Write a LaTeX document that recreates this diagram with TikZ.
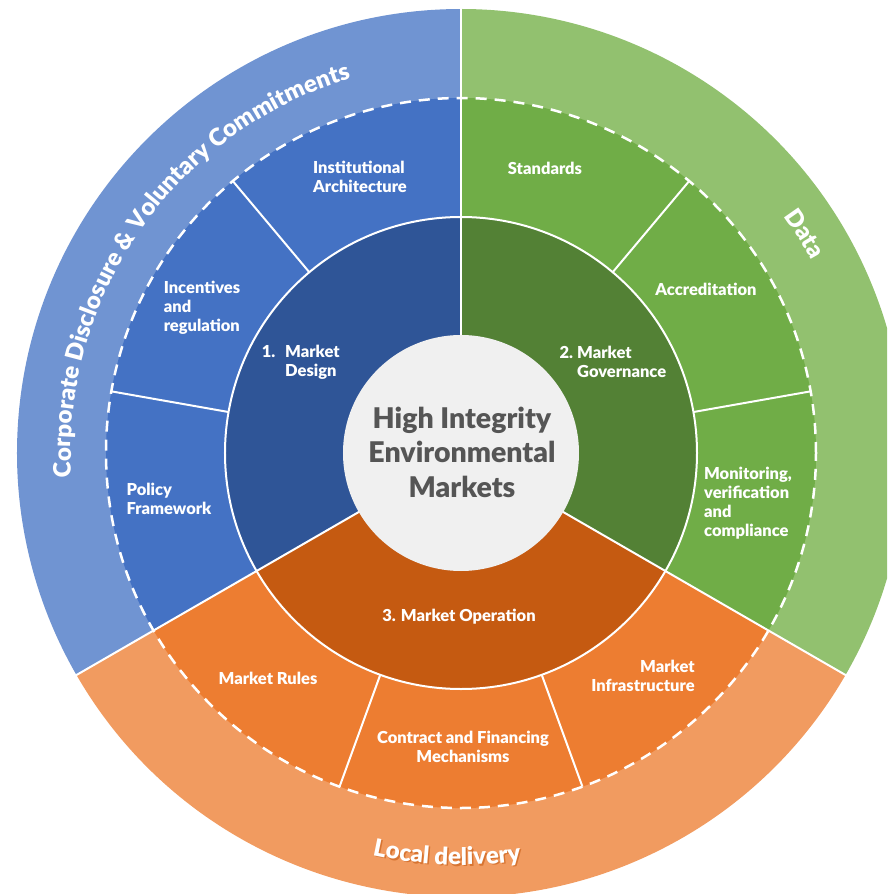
\documentclass[tikz,border=0pt]{standalone}
\usepackage{fontspec}
\IfFontExistsTF{Lato Bold}{\setmainfont{Lato Bold}}{%
  \IfFontExistsTF{Lato Semibold}{\setmainfont{Lato Semibold}}{%
    \IfFontExistsTF{Lato Black}{\setmainfont{Lato Black}}{\setmainfont{Open Sans}}}}
\usetikzlibrary{decorations.text}
\definecolor{bluelight}{HTML}{7094D2}
\definecolor{bluemid}{HTML}{4472C4}
\definecolor{bluedark}{HTML}{2F5597}
\definecolor{greenlight}{HTML}{92C16F}
\definecolor{greenmid}{HTML}{70AD47}
\definecolor{greendark}{HTML}{538135}
\definecolor{orangelight}{HTML}{F19B60}
\definecolor{orangemid}{HTML}{ED7D31}
\definecolor{orangedark}{HTML}{C55A11}
\definecolor{hubgray}{HTML}{F0F0F0}
\definecolor{hubtext}{HTML}{555555}
\tikzset{
	sector/.style={
		font=\fontsize{16.5}{19}\selectfont\bfseries,
		text=white,
		align=left,
		inner sep=0pt
	},
	divider/.style={
		white,
		line width=2pt
	},
	ringtext/.style 2 args={
		decorate,
		decoration={text along path, text align=center,
			text={|\fontsize{24}{24}\selectfont\bfseries\color{#1}|#2}}
	},
}
\newcommand{\ringpart}[4]{% colour, from, to, radius
	\fill[#1] (0,0) -- (#2:#4) arc (#2:#3:#4) -- cycle;
}

\begin{document}
\begin{tikzpicture}[x=1pt, y=1pt]
    \useasboundingbox (-461,-441) rectangle (426,453);
    \clip (-461,-441) rectangle (426,453);
    \foreach \a/\b/\c in {90/210/blue, -30/90/green, 210/330/orange}{
      \ringpart{\c light}{\a}{\b}{444}
      \ringpart{\c mid}{\a}{\b}{355}
      \ringpart{\c dark}{\a}{\b}{236}
    }
    \draw[divider] (0,0) circle (236);
    \foreach \a in {90,210,330}
      \draw[divider] (\a:110) -- (\a:450);
    \foreach \a in {130,170,50,10,250,290}
      \draw[divider] (\a:236) -- (\a:355);
    \draw[white, line width=2.5pt, dash pattern=on 11pt off 8pt] (0,0) circle (355);
    \fill[hubgray] (0,0) circle (118);
    \node[font=\fontsize{28.5}{34.5}\selectfont\bfseries, text=hubtext, align=center] (hub) at (1,1)
      {High Integrity\\Environmental\\Markets};
    % inner ring
    \node[sector, anchor=west] (design) at (-176,91) {\llap{1.\hspace{0.6em}}Market\\Design};
    \node[sector, anchor=west] (governance) at (116,91) {\llap{2.\hspace{0.25em}}Market\\Governance};
    \node[sector] (operation) at (-2,-164) {3. Market Operation};
    % middle ring
    \node[sector] (instarch) at (-101,276) {Institutional\\Architecture};
    \node[sector] (incentives) at (-259,145) {Incentives\\and\\regulation};
    \node[sector] (policy) at (-292,-46) {Policy\\Framework};
    \node[sector] (standards) at (84,285) {Standards};
    \node[sector] (accred) at (245,164) {Accreditation};
    \node[sector] (monitoring) at (287,-50) {Monitoring,\\verification\\and\\compliance};
    \node[sector] (rules) at (-193,-225) {Market Rules};
    \node[sector, align=center] (contract) at (2,-294) {Contract and Financing\\Mechanisms};
    \node[sector, align=right] (infra) at (182,-223) {Market\\Infrastructure};
    % outer ring
    \path[ringtext={white}{Corporate Disclosure {\&} Voluntary Commitments}] (186:390) arc (186:104:390);
    \path[ringtext={white}{Data}] (45:400) arc (45:20:400);
    \begin{scope}[shift={(1.5,-1.5)}]
      \path[ringtext={orangedark!60!orangelight}{Local delivery}] (248:412) arc (248:288:412);
    \end{scope}
    \path[ringtext={white}{Local delivery}] (248:412) arc (248:288:412);
\end{tikzpicture}
\end{document}
